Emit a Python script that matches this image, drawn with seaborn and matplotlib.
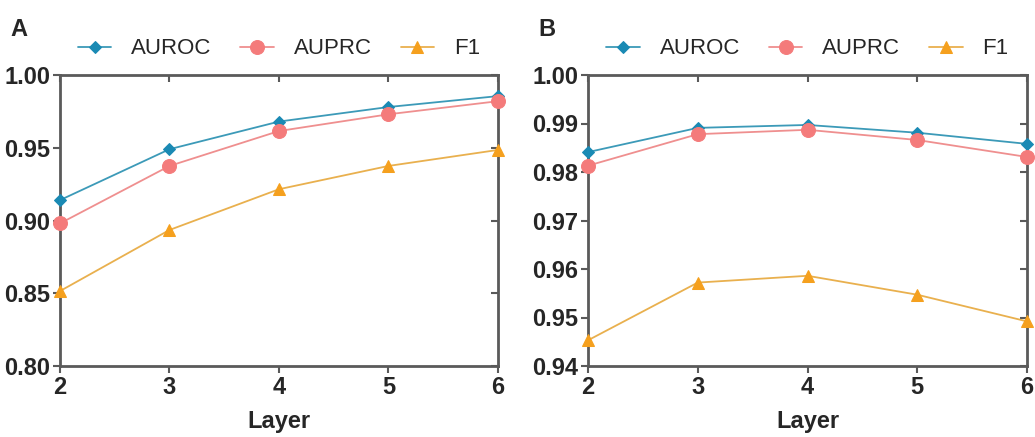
import matplotlib
matplotlib.use("Agg")
import matplotlib.pyplot as plt
import seaborn as sns
import pandas as pd

layers = [2, 3, 4, 5, 6]
metrics = ["AUROC", "AUPRC", "F1"]

a_auroc = [0.914, 0.949, 0.968, 0.978, 0.9855]
a_auprc = [0.898, 0.9375, 0.9615, 0.973, 0.982]
a_f1 = [0.8515, 0.8935, 0.9215, 0.9375, 0.9485]

b_auroc = [0.9841, 0.9891, 0.9897, 0.9881, 0.9858]
b_auprc = [0.9813, 0.9878, 0.9887, 0.9866, 0.9831]
b_f1 = [0.9453, 0.9572, 0.9586, 0.9547, 0.9492]

a_yticks = [0.80, 0.85, 0.90, 0.95, 1.00]
b_yticks = [0.94, 0.95, 0.96, 0.97, 0.98, 0.99, 1.00]

colors = {"AUROC": "#1a8ab4", "AUPRC": "#f47b7b", "F1": "#f5a01e"}
line_colors = {"AUROC": "#3c9ab8", "AUPRC": "#ef8f8f", "F1": "#e9b04e"}
markers = {"AUROC": "D", "AUPRC": "o", "F1": "^"}
msizes = {"AUROC": 6, "AUPRC": 10, "F1": 9}

sns.set_theme(style="white")
plt.rcParams["font.family"] = ["Liberation Sans", "DejaVu Sans"]


def make_df(vals):
    rows = []
    for m, v in zip(metrics, vals):
        for l, y in zip(layers, v):
            rows.append({"Layer": l, "Value": y, "Metric": m})
    return pd.DataFrame(rows)


fig = plt.figure(figsize=(10.35, 4.37), dpi=100)
axA = fig.add_axes([60 / 1035, 1 - 366 / 437, 438 / 1035, 291 / 437])
axB = fig.add_axes([588 / 1035, 1 - 366 / 437, 439 / 1035, 291 / 437])

panels = [
    (axA, make_df([a_auroc, a_auprc, a_f1]), (0.80, 1.00), a_yticks, "{:.2f}"),
    (axB, make_df([b_auroc, b_auprc, b_f1]), (0.94, 1.00), b_yticks, "{:.2f}"),
]

spine_col = "#5a5a5a"
for ax, df, ylim, yticks, fmt in panels:
    for m in metrics:
        sub = df[df["Metric"] == m]
        sns.lineplot(data=sub, x="Layer", y="Value", ax=ax, color=line_colors[m],
                     marker=markers[m], markersize=msizes[m],
                     markerfacecolor=colors[m], markeredgecolor=colors[m],
                     linewidth=1.3, label=m, clip_on=False, zorder=3)
    ax.set_xlim(2, 6)
    ax.set_ylim(*ylim)
    ax.set_xticks(layers)
    ax.set_xticklabels([str(l) for l in layers], fontsize=17, fontweight="bold")
    ax.set_yticks(yticks)
    ax.set_yticklabels([fmt.format(t) for t in yticks], fontsize=17, fontweight="bold")
    ax.set_xlabel("Layer", fontsize=17, fontweight="bold", labelpad=8)
    ax.set_ylabel("")
    for s in ax.spines.values():
        s.set_visible(True)
        s.set_color(spine_col)
        s.set_linewidth(2)
    ax.tick_params(axis="both", direction="out", length=5, width=1.5, color=spine_col,
                   bottom=True, left=True, pad=2)
    # inward ticks on top & right
    top = ax.secondary_xaxis("top")
    top.set_xticks(layers)
    top.tick_params(direction="in", length=5, width=1.5, color=spine_col, labeltop=False)
    top.spines["top"].set_visible(False)
    right = ax.secondary_yaxis("right")
    right.set_yticks(yticks)
    right.tick_params(direction="in", length=5, width=1.5, color=spine_col, labelright=False)
    right.spines["right"].set_visible(False)
    leg = ax.legend(loc="lower center", bbox_to_anchor=(0.5, 1.0), ncol=3, frameon=False,
                    fontsize=16, handlelength=1.5, columnspacing=1.3, handletextpad=0.9,
                    borderaxespad=0.3)

fig.text(10 / 1035, 1 - 36 / 437, "A", fontsize=17, fontweight="bold")
fig.text(538 / 1035, 1 - 36 / 437, "B", fontsize=17, fontweight="bold")

fig.savefig("out.png", dpi=100)
